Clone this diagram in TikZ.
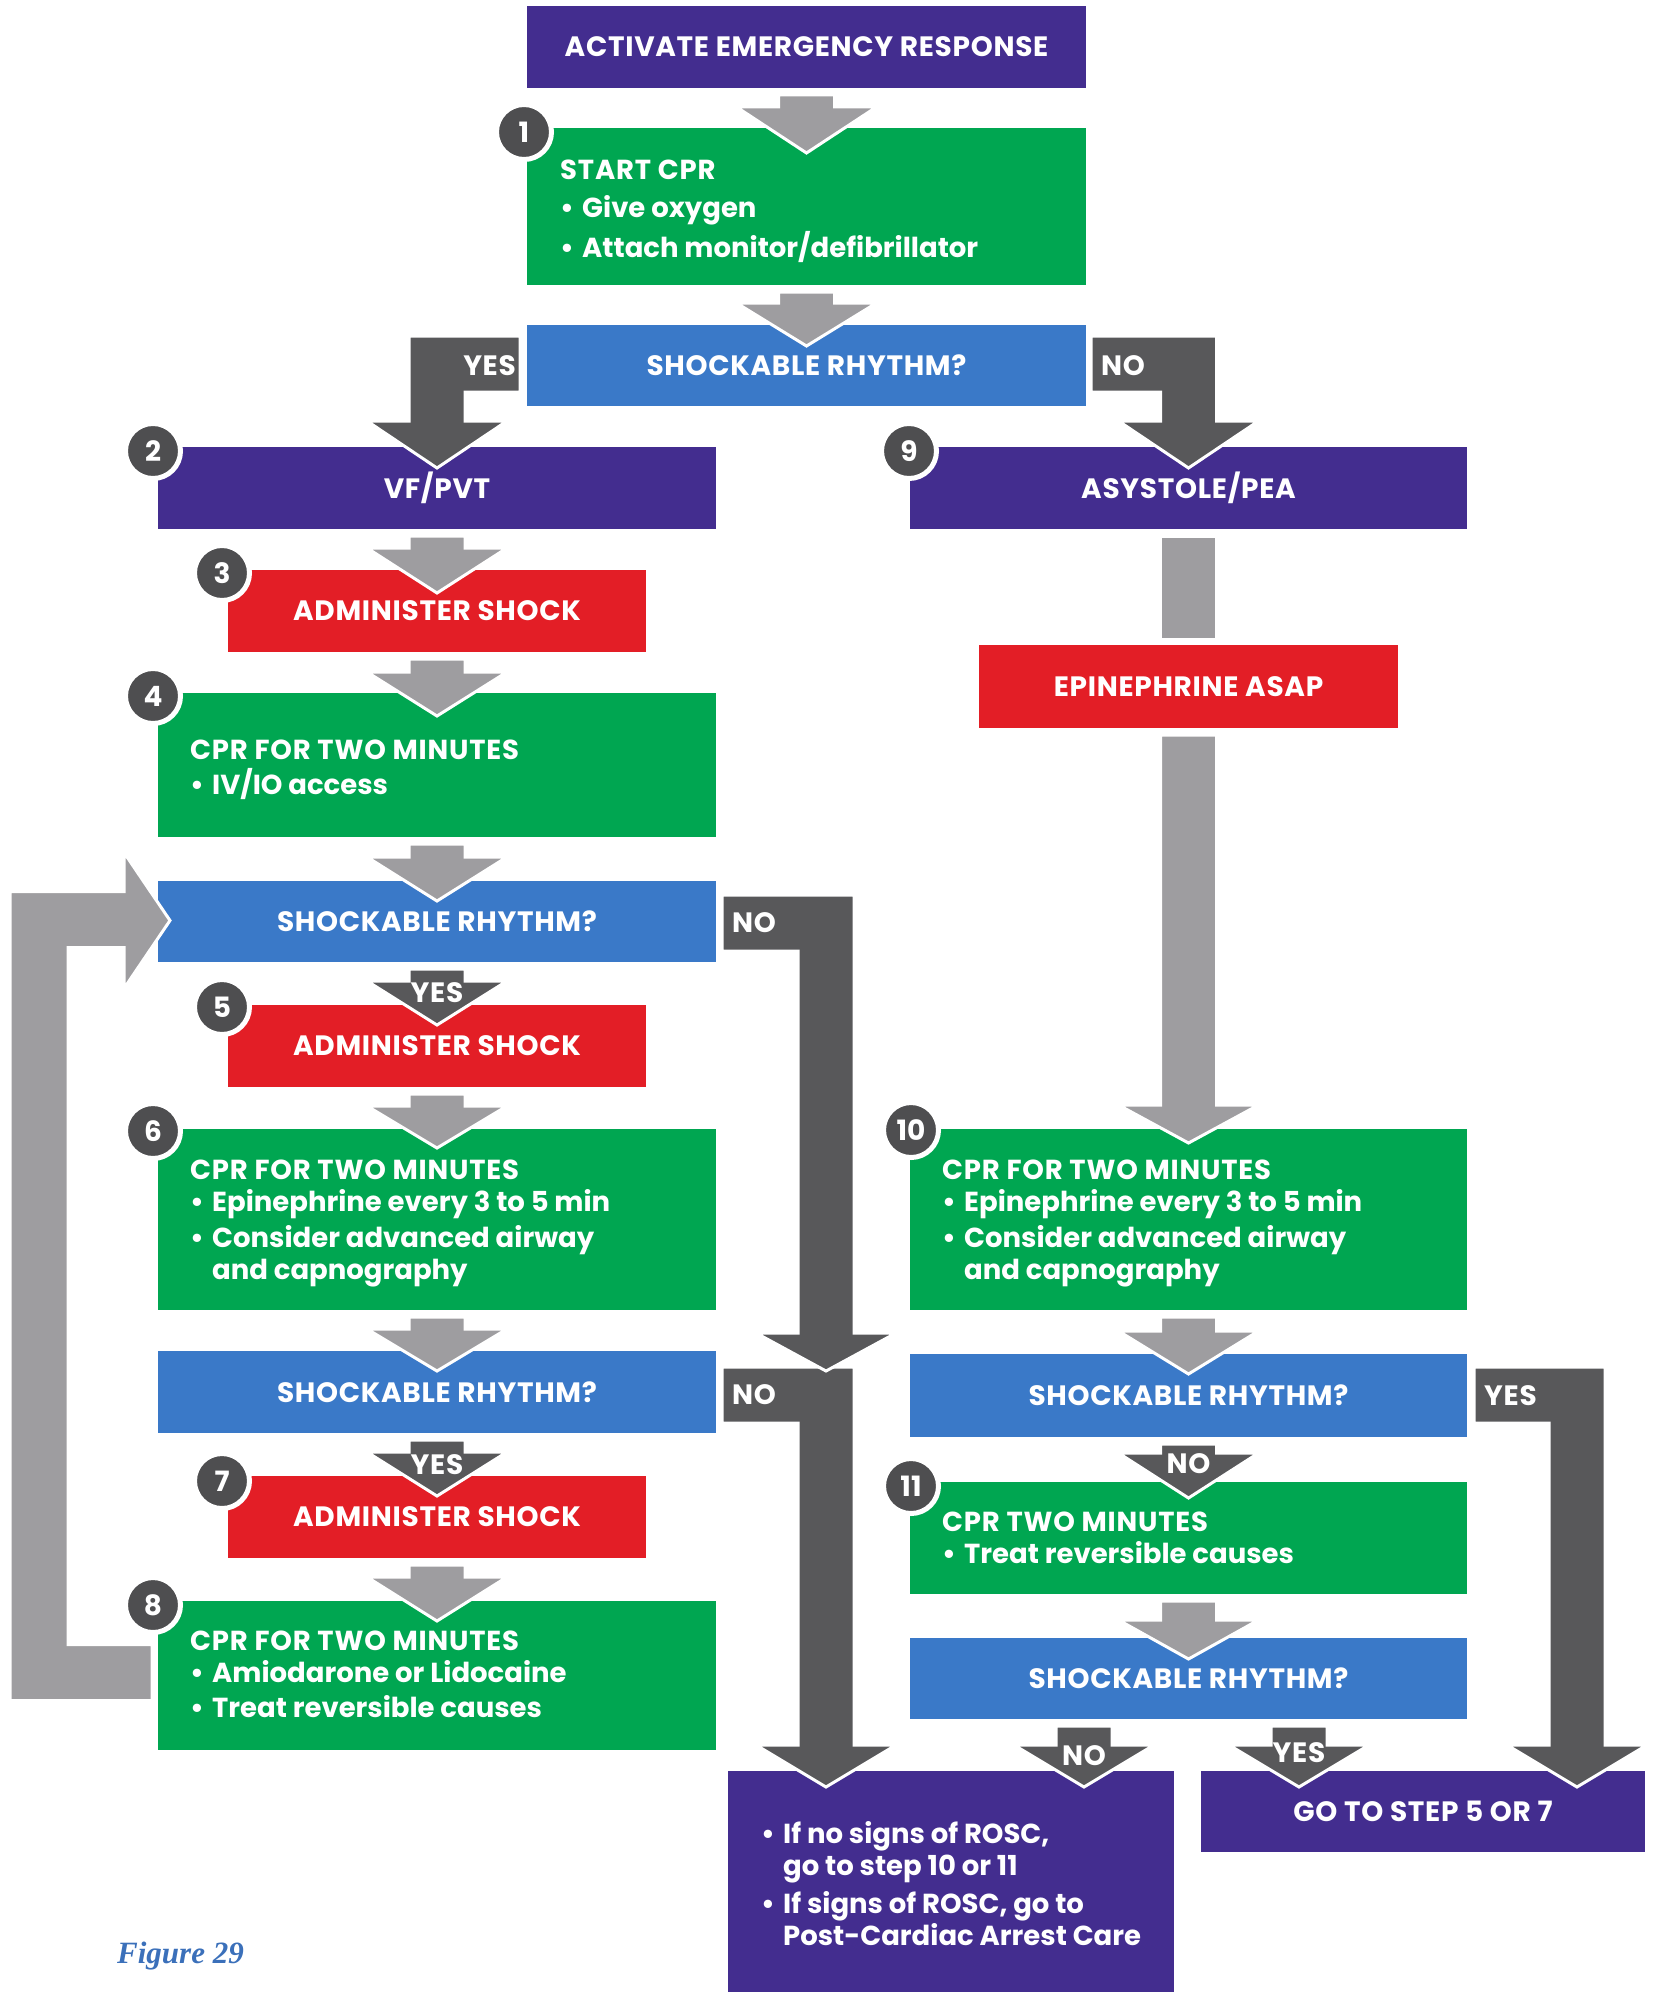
\documentclass[tikz,border=0pt]{standalone}
\usepackage{fontspec}
\setmainfont{Poppins}
\newfontfamily\figfont{Liberation Serif}
\usetikzlibrary{calc}

\definecolor{acpurple}{HTML}{432D8F}
\definecolor{acgreen}{HTML}{00A651}
\definecolor{acred}{HTML}{E31E26}
\definecolor{acblue}{HTML}{3A79C8}
\definecolor{acdark}{HTML}{58585A}
\definecolor{aclight}{HTML}{9E9DA0}
\definecolor{acbadge}{HTML}{4E4E50}
\definecolor{acfig}{HTML}{3B70BA}

\newcommand\labsize{\fontsize{28}{32}\selectfont\bfseries\addfontfeature{LetterSpace=2.5}}
\newcommand\bodysize{\fontsize{27.5}{32}\selectfont\bfseries}
\newcommand\hd[1]{{\addfontfeature{LetterSpace=3}#1}}
\newcommand\bul{\makebox[22pt][l]{\textbullet}}
\newcommand\cont{\hspace*{22pt}}
\newcommand\lines[1]{\begin{tabular}[t]{@{}l@{}}#1\end{tabular}}

% box given by its corners (x1,y1)-(x2,y2), y pointing down
\newcommand\flowbox[7]{\node[#2, minimum width={#5-#3}, minimum height={#6-#4}] (#1) at ({(#3+#5)/2},{(#4+#6)/2}) {#7};}

% straight block arrow: #2 source, #3 target, #4 x reference, #5 head top above target, #6 tip below target
\newcommand\vblock[6][gshape]{%
  \path[#1] let \p1=(#2.south), \p2=(#3.north), \p3=(#4) in
    (\x3-28pt,\y1-7pt) -- (\x3+28pt,\y1-7pt) -- (\x3+28pt,\y2+#5) -- (\x3+70pt,\y2+#5)
    -- (\x3,\y2-#6) -- (\x3-70pt,\y2+#5) -- (\x3-28pt,\y2+#5) -- cycle;}

% bent block arrow, label area right of the shaft: #2 top right corner of label area
\newcommand\flagR[6][dshape]{%
  \path[#1] let \p1=#2, \p2=(#3.north), \p3=(#4) in
    (\x3-28pt,\y1) -- (\x1,\y1) -- (\x1,\y1-56pt) -- (\x3+28pt,\y1-56pt) -- (\x3+28pt,\y2+#5)
    -- (\x3+70pt,\y2+#5) -- (\x3,\y2-#6) -- (\x3-70pt,\y2+#5) -- (\x3-28pt,\y2+#5) -- cycle;}

% bent block arrow, label area left of the shaft: #2 top left corner of label area
\newcommand\flagL[6][dshape]{%
  \path[#1] let \p1=#2, \p2=(#3.north), \p3=(#4) in
    (\x1,\y1) -- (\x3+28pt,\y1) -- (\x3+28pt,\y2+#5) -- (\x3+70pt,\y2+#5) -- (\x3,\y2-#6)
    -- (\x3-70pt,\y2+#5) -- (\x3-28pt,\y2+#5) -- (\x3-28pt,\y1-56pt) -- (\x1,\y1-56pt) -- cycle;}

\begin{document}
\begin{tikzpicture}[x=1pt, y=-1pt,
  fbox/.style={inner sep=0, outer sep=0, text=white, font=\labsize},
  purplebox/.style={fbox, fill=acpurple},
  greenbox/.style={fbox, fill=acgreen},
  redbox/.style={fbox, fill=acred},
  bluebox/.style={fbox, fill=acblue},
  gshape/.style={fill=aclight, draw=white, line width=3pt, line join=miter},
  dshape/.style={fill=acdark, draw=white, line width=3pt, line join=miter},
  badge/.style={circle, fill=acbadge, draw=white, line width=5pt, minimum size=55pt,
                inner sep=0, text=white, font=\fontsize{28}{28}\selectfont\bfseries},
  txt/.style={inner sep=0, text=white, font=\bodysize, anchor=base west},
  lbl/.style={inner sep=0, text=white, font=\labsize},
]
\useasboundingbox (0,0) rectangle (1657,2004);

% ---- boxes
\flowbox{act}{purplebox}{527}{6}{1086}{88}{ACTIVATE EMERGENCY RESPONSE}
\flowbox{s1}{greenbox}{527}{128}{1086}{285}{}
\flowbox{q1}{bluebox}{527}{325}{1086}{406}{SHOCKABLE RHYTHM?}
\flowbox{vf}{purplebox}{158}{447}{716}{529}{VF/PVT}
\flowbox{asy}{purplebox}{910}{447}{1467}{529}{ASYSTOLE/PEA}
\flowbox{sh1}{redbox}{228}{570}{646}{652}{ADMINISTER SHOCK}
\flowbox{cpr4}{greenbox}{158}{693}{716}{837}{}
\flowbox{q2}{bluebox}{158}{881}{716}{962}{SHOCKABLE RHYTHM?}
\flowbox{sh2}{redbox}{228}{1005}{646}{1087}{ADMINISTER SHOCK}
\flowbox{cpr6}{greenbox}{158}{1129}{716}{1310}{}
\flowbox{q3}{bluebox}{158}{1351}{716}{1433}{SHOCKABLE RHYTHM?}
\flowbox{sh3}{redbox}{228}{1476}{646}{1558}{ADMINISTER SHOCK}
\flowbox{cpr8}{greenbox}{158}{1601}{716}{1750}{}
\flowbox{epi}{redbox}{979}{645}{1398}{728}{EPINEPHRINE ASAP}
\flowbox{cpr10}{greenbox}{910}{1129}{1467}{1310}{}
\flowbox{q4}{bluebox}{910}{1354}{1467}{1437}{SHOCKABLE RHYTHM?}
\flowbox{cpr11}{greenbox}{910}{1482}{1467}{1594}{}
\flowbox{q5}{bluebox}{910}{1638}{1467}{1719}{SHOCKABLE RHYTHM?}
\flowbox{rosc}{purplebox}{728}{1771}{1174}{1992}{}
\flowbox{goto}{purplebox}{1201}{1771}{1645}{1852}{GO TO STEP 5 OR 7}

% ---- texts of the step boxes
\node[txt] (s1t) at ($(s1.north west)+(33,52)$)
  {\lines{\hd{START CPR}\\[5pt] \bul Give oxygen\\[5pt] \bul Attach monitor/defibrillator}};
\node[txt] (cpr4t) at ($(cpr4.north west)+(32,66)$)
  {\lines{\hd{CPR FOR TWO MINUTES}\\ \bul IV/IO access}};
\node[txt] (cpr6t) at ($(cpr6.north west)+(32,50)$)
  {\lines{\hd{CPR FOR TWO MINUTES}\\ \bul Epinephrine every 3 to 5 min\\[4pt] \bul Consider advanced airway\\ \cont and capnography}};
\node[txt] (cpr8t) at ($(cpr8.north west)+(32,49)$)
  {\lines{\hd{CPR FOR TWO MINUTES}\\ \bul Amiodarone or Lidocaine\\[3pt] \bul Treat reversible causes}};
\node[txt] (cpr10t) at ($(cpr10.north west)+(32,50)$)
  {\lines{\hd{CPR FOR TWO MINUTES}\\ \bul Epinephrine every 3 to 5 min\\[4pt] \bul Consider advanced airway\\ \cont and capnography}};
\node[txt] (cpr11t) at ($(cpr11.north west)+(32,49)$)
  {\lines{\hd{CPR TWO MINUTES}\\ \bul Treat reversible causes}};
\node[txt] (rosct) at ($(rosc.north west)+(33,72)$)
  {\lines{\bul If no signs of ROSC,\\ \cont go to step 10 or 11\\[6pt] \bul If signs of ROSC, go to\\ \cont Post-Cardiac Arrest Care}};

% ---- channels of the long arrows
\coordinate (lchan) at (826,1000);
\coordinate (rchan) at ($(goto.north east)+(-68,0)$);
\coordinate (loopx) at (10,1000);
\coordinate (noend) at (1084,1700);
\coordinate (yesend) at (1299,1700);

% ---- light grey block arrows
\vblock{act}{s1}{s1}{21pt}{25pt}
\vblock{s1}{q1}{q1}{22pt}{21pt}
\vblock{vf}{sh1}{sh1}{22pt}{23pt}
\vblock{sh1}{cpr4}{cpr4}{21pt}{23pt}
\vblock{cpr4}{q2}{q2}{24pt}{20pt}
\vblock{sh2}{cpr6}{cpr6}{23pt}{19pt}
\vblock{cpr6}{q3}{q3}{22pt}{20pt}
\vblock{sh3}{cpr8}{cpr8}{24pt}{20pt}
\vblock{epi}{cpr10}{cpr10}{24pt}{14pt}
\vblock{cpr10}{q4}{q4}{23pt}{20pt}
\vblock{cpr11}{q5}{q5}{18pt}{21pt}
\path[gshape] let \p1=(asy.south), \p2=(epi.north) in
  (\x2-28pt,\y1-7pt) rectangle (\x2+28pt,\y2+6pt);

% ---- loop back from step 8 to the rhythm check
\path[gshape] let \p1=(cpr8.west), \p2=(q2.west), \p3=(loopx) in
  (\x1-6pt,\y1-25pt) -- (\x3,\y1-25pt) -- (\x3,\y2+30pt) -- (\x2-34pt,\y2+30pt)
  -- (\x2-34pt,\y2+69pt) -- (\x2+12pt,\y2+1pt) -- (\x2-34pt,\y2-67pt) -- (\x2-34pt,\y2-26pt)
  -- (\x3+58pt,\y2-26pt) -- (\x3+58pt,\y1+31pt) -- (\x1-6pt,\y1+31pt) -- cycle;

% ---- dark block arrows with YES / NO
\vblock[dshape]{q2}{sh2}{sh2}{24pt}{20pt}
\vblock[dshape]{q3}{sh3}{sh3}{24pt}{20pt}
\vblock[dshape]{q4}{cpr11}{cpr11}{29pt}{16pt}
\vblock[dshape]{q5}{rosc}{noend}{26pt}{16pt}
\vblock[dshape]{q5}{goto}{yesend}{26pt}{16pt}
\flagR{($(q1.north west)+(-7,11)$)}{vf}{vf}{26pt}{21pt}
\flagL{($(q1.north east)+(5,11)$)}{asy}{asy}{26pt}{21pt}
\flagL{($(q3.north east)+(6,16)$)}{rosc}{lchan}{26pt}{16pt}
\flagL{($(q2.north east)+(6,14)$)}{q3}{lchan}{18pt}{20pt}
\flagL{($(q4.north east)+(7,13)$)}{goto}{rchan}{26pt}{16pt}

\node[lbl, anchor=east] (y1) at ($(q1.north west)+(-11,41)$) {YES};
\node[lbl, anchor=west] (n1) at ($(q1.north east)+(15,41)$) {NO};
\node[lbl, anchor=west] (n2) at ($(q2.north east)+(16,42)$) {NO};
\node[lbl, anchor=west] (n3) at ($(q3.north east)+(16,44)$) {NO};
\node[lbl, anchor=west] (y4) at ($(q4.north east)+(17,42)$) {YES};
\node[lbl] (y2) at ($(sh2.north)+(0,-12)$) {YES};
\node[lbl] (y3) at ($(sh3.north)+(0,-11)$) {YES};
\node[lbl] (n4) at ($(cpr11.north)+(0,-18)$) {NO};
\node[lbl] (n5) at ($(rosc.north-|noend)+(0,-15)$) {NO};
\node[lbl] (y5) at ($(goto.north-|yesend)+(0,-18)$) {YES};

% ---- step numbers
\node[badge] (b1) at ($(s1.north west)+(-3,4)$) {1};
\node[badge] (b2) at ($(vf.north west)+(-5,4)$) {2};
\node[badge] (b9) at ($(asy.north west)+(-1,4)$) {9};
\node[badge] (b3) at ($(sh1.north west)+(-6,3)$) {3};
\node[badge] (b4) at ($(cpr4.north west)+(-5,3)$) {4};
\node[badge] (b5) at ($(sh2.north west)+(-6,2)$) {5};
\node[badge] (b6) at ($(cpr6.north west)+(-5,2)$) {6};
\node[badge] (b7) at ($(sh3.north west)+(-6,5)$) {7};
\node[badge] (b8) at ($(cpr8.north west)+(-5,4)$) {8};
\node[badge] (b10) at ($(cpr10.north west)+(1,1)$) {10};
\node[badge] (b11) at ($(cpr11.north west)+(1,4)$) {11};

% ---- caption
\node[anchor=west, inner sep=0, text=acfig,
      font=\figfont\fontsize{31}{36}\selectfont\bfseries\itshape] (fig) at (117,1956) {Figure 29};
\end{tikzpicture}
\end{document}
